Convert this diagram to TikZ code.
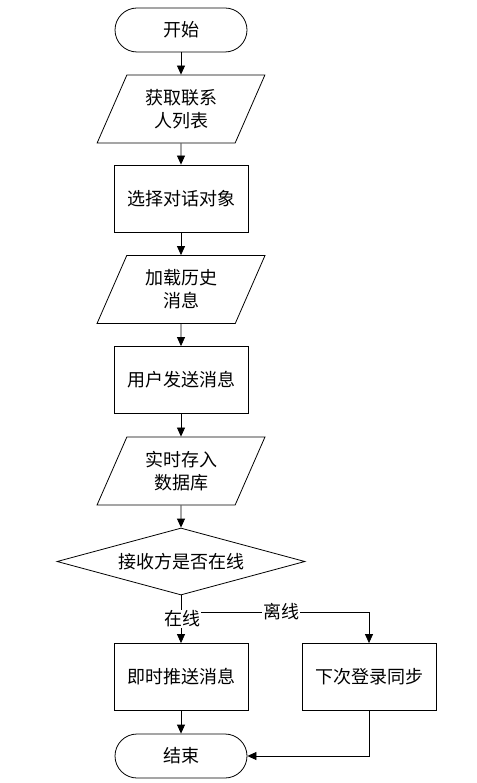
\documentclass[tikz,border=0pt]{standalone}
\usepackage{fontspec}
\setmainfont{Noto Sans CJK SC}
\usetikzlibrary{arrows.meta,shapes.geometric}
\tikzset{
	line/.style={line width=0.8pt, draw=black},
	arr/.style={line, -{Triangle[length=9pt,width=8pt]}},
	term/.style={line, rounded corners=22pt, minimum width=132pt, minimum height=44pt},
	proc/.style={line, minimum width=134pt, minimum height=67pt},
	io/.style={line, trapezium, trapezium left angle=65, trapezium right angle=115,
		trapezium stretches=true, minimum width=168pt, minimum height=68pt, align=center},
	dec/.style={line, diamond, aspect=3.7, minimum width=248pt, minimum height=67pt, inner sep=0pt},
	lab/.style={fill=white, inner sep=1pt}
}

\begin{document}
\begin{tikzpicture}[x=1pt, y=-1pt, font=\fontsize{18}{23}\selectfont]
			%%%%% START %%%%%
			\useasboundingbox (0, 0) rectangle (476, 783);
			
			\node[term] (start) at (181, 30) {开始};
			\node[io] (fetch) at (181, 109) {获取联系\\人列表};
			\node[proc] (pick) at (181, 198.5) {选择对话对象};
			\node[io] (load) at (181, 289.5) {加载历史\\消息};
			\node[proc] (send) at (181, 380) {用户发送消息};
			\node[io] (save) at (181, 471) {实时存入\\数据库};
			\node[dec] (online) at (181, 561.5) {接收方是否在线};
			
			\coordinate (split) at (181, 612);
			
			\node[proc] (push) at (181, 677) {即时推送消息};
			\node[proc] (sync) at (369, 677) {下次登录同步};
			\node[term] (stop) at (181, 756) {结束};
			
			\draw[arr] (start) -- (fetch);
			\draw[arr] (fetch) -- (pick);
			\draw[arr] (pick) -- (load);
			\draw[arr] (load) -- (send);
			\draw[arr] (send) -- (save);
			\draw[arr] (save) -- (online);
			
			\draw[line] (online) -- (split);
			\draw[arr] (split) -- (push);
			\draw[arr] (split) -| (sync);
			\node[lab] (yes) at (182, 619) {在线};
			\node[lab] (no) at (281, 612) {离线};
			
			\draw[arr] (push) -- (stop);
			\draw[arr] (sync) |- (stop);
			%%%%% END %%%%%
\end{tikzpicture}
\end{document}
